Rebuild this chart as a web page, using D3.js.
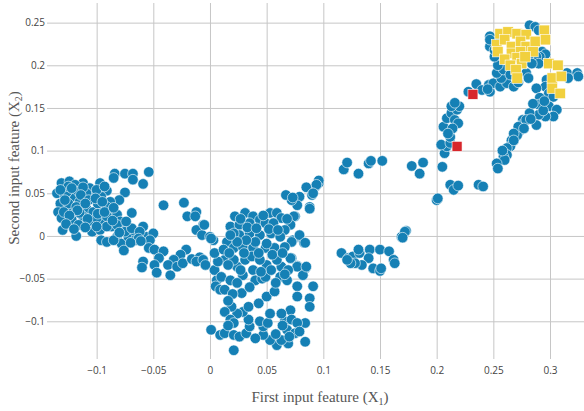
<html>
<head>
<meta charset="utf-8">
<script src="https://d3js.org/d3.v7.min.js"></script>
<style>
  html, body { margin: 0; padding: 0; background: #fff; }
  .tick text { font-family: "Open Sans", sans-serif; font-size: 10px; fill: #444; }
  .title { font-family: "Liberation Serif", serif; font-size: 15px; fill: #555; }
</style>
</head>
<body>
<div id="chart"></div>
<script>
// [first feature, second feature]
const bluePoints = [
  [-0.135,0.050],[-0.131,0.062],[-0.124,0.064],[-0.112,0.062],[-0.119,0.060],[-0.097,0.062],
  [-0.084,0.073],[-0.075,0.073],[-0.068,0.073],[-0.068,0.066],[-0.085,0.068],[-0.054,0.075],
  [-0.059,0.061],[-0.075,0.051],[-0.080,0.042],[-0.091,0.053],[-0.096,0.046],[-0.103,0.048],
  [-0.112,0.044],[-0.121,0.046],[-0.128,0.048],[-0.132,0.038],[-0.134,0.028],[-0.131,0.021],
  [-0.130,0.007],[-0.118,0.000],[-0.122,0.019],[-0.121,0.030],[-0.115,0.040],[-0.109,0.032],
  [-0.112,0.023],[-0.116,0.013],[-0.103,0.028],[-0.104,0.017],[-0.104,0.005],[-0.096,0.030],
  [-0.094,0.019],[-0.097,0.007],[-0.096,-0.005],[-0.091,-0.007],[-0.088,0.040],[-0.087,0.027],
  [-0.082,0.025],[-0.087,0.011],[-0.079,0.017],[-0.078,0.007],[-0.082,-0.001],[-0.078,-0.009],
  [-0.076,-0.017],[-0.069,0.027],[-0.073,0.011],[-0.072,-0.001],[-0.066,0.005],[-0.066,-0.005],
  [-0.059,0.011],[-0.056,-0.001],[-0.050,0.003],[-0.053,-0.005],[-0.054,-0.014],[-0.049,-0.016],
  [-0.041,-0.018],[-0.045,-0.026],[-0.059,-0.030],[-0.060,-0.037],[-0.049,-0.034],[-0.047,-0.043],
  [-0.041,0.036],[-0.023,0.039],[-0.020,0.023],[-0.012,0.028],[-0.013,0.023],[-0.006,0.013],
  [-0.012,0.007],[-0.007,0.001],[0.000,-0.001],[0.003,-0.005],[-0.021,-0.016],[-0.026,-0.022],
  [-0.032,-0.028],[-0.037,-0.034],[-0.035,-0.046],[-0.029,-0.036],[-0.024,-0.032],[-0.016,-0.027],
  [-0.009,-0.025],[-0.004,-0.034],[-0.012,-0.030],[0.004,-0.040],[0.006,-0.052],[0.005,-0.059],
  [-0.126,0.052],[-0.116,0.052],[-0.106,0.056],[-0.100,0.054],[-0.109,0.050],[-0.125,0.038],
  [-0.118,0.034],[-0.129,0.028],[-0.099,0.038],[-0.091,0.034],[-0.115,0.027],[-0.100,0.021],
  [-0.091,0.023],[-0.091,0.011],[-0.100,0.011],[-0.082,0.013],[-0.075,0.005],[-0.069,0.009],
  [-0.062,0.005],[-0.085,-0.005],[-0.063,-0.003],[-0.125,0.058],[-0.132,0.054],[-0.112,0.057],
  [-0.093,0.058],
  [-0.128,0.042],[-0.122,0.056],[-0.114,0.048],[-0.107,0.042],[-0.101,0.044],[-0.095,0.040],
  [-0.110,0.038],[-0.117,0.030],[-0.124,0.024],[-0.108,0.020],[-0.099,0.026],[-0.093,0.028],
  [-0.086,0.018],[-0.080,0.004],[-0.074,0.017],[-0.070,-0.008],[-0.061,-0.006],[-0.085,0.033],
  [-0.127,0.014],[-0.120,0.008],[-0.110,0.010],
  [0.096,0.062],[0.093,0.058],[0.085,0.057],[0.090,0.048],[0.088,0.034],[0.079,0.046],
  [0.077,0.036],[0.072,0.042],[0.067,0.048],[0.075,0.023],[0.096,0.065],[0.094,0.060],
  [0.091,0.050],[0.088,0.032],[0.074,0.023],[0.079,-0.001],[0.083,-0.008],[0.073,-0.005],
  [0.072,-0.026],[0.077,-0.035],[0.084,-0.038],[0.082,-0.046],[0.073,0.045],
  [0.022,0.023],[0.031,0.027],[0.038,0.023],[0.044,0.019],[0.053,0.027],[0.059,0.027],
  [0.063,0.021],[0.071,0.013],[0.018,0.011],[0.026,0.013],[0.035,0.015],[0.049,0.015],
  [0.056,0.015],[0.066,0.007],[0.079,0.001],[0.084,-0.008],[0.072,-0.007],[0.015,-0.007],
  [0.026,0.001],[0.035,0.003],[0.044,0.001],[0.054,0.003],[0.062,-0.001],[0.021,-0.014],
  [0.029,-0.013],[0.038,-0.014],[0.049,-0.014],[0.057,-0.014],[0.066,-0.013],[0.071,-0.026],
  [0.077,-0.036],[0.085,-0.036],[0.091,-0.059],[0.088,-0.073],[0.088,-0.083],[0.084,-0.102],
  [0.084,-0.124],[0.004,-0.040],[0.013,-0.028],[0.010,-0.048],[0.009,-0.063],[0.013,-0.063],
  [0.018,-0.052],[0.024,-0.036],[0.031,-0.028],[0.029,-0.046],[0.028,-0.067],[0.024,-0.055],
  [0.038,-0.040],[0.040,-0.052],[0.046,-0.050],[0.049,-0.048],[0.050,-0.034],[0.054,-0.040],
  [0.062,-0.048],[0.063,-0.036],[0.068,-0.052],[0.077,-0.059],[0.077,-0.071],[0.071,-0.087],
  [0.066,-0.100],[0.063,-0.091],[0.072,-0.098],[0.077,-0.102],[0.068,-0.110],[0.075,-0.114],
  [0.079,-0.112],[0.069,-0.126],[0.059,-0.128],[0.063,-0.122],[0.053,-0.122],[0.047,-0.116],
  [0.047,-0.106],[0.044,-0.100],[0.051,-0.102],[0.053,-0.091],[0.043,-0.079],[0.021,-0.134],
  [0.001,-0.110],[0.009,-0.116],[0.013,-0.114],[0.021,-0.116],[0.026,-0.118],[0.032,-0.114],
  [0.035,-0.106],[0.034,-0.098],[0.029,-0.089],[0.024,-0.091],[0.019,-0.083],[0.013,-0.089],
  [0.018,-0.098],[0.021,-0.102],[0.034,-0.083],[0.007,-0.030],[0.004,-0.020],[0.012,-0.016],
  [0.021,-0.028],[0.037,-0.024],[0.044,-0.028],[0.059,-0.028],[0.069,-0.040],[0.050,-0.071],
  [0.057,-0.065],[-0.005,0.013],[0.001,-0.003],[-0.006,-0.028],[-0.004,-0.034],[0.021,0.003],
  [0.050,-0.009],[0.040,-0.007],[0.032,-0.005],[0.024,-0.007],[0.018,0.001],
  [0.027,0.020],[0.033,0.010],[0.041,0.009],[0.047,0.024],[0.052,0.008],[0.060,0.007],
  [0.068,0.020],[0.030,-0.020],[0.043,-0.020],[0.055,-0.022],[0.064,-0.020],[0.017,-0.020],
  [0.016,-0.034],[0.027,-0.040],[0.045,-0.042],[0.058,-0.055],[0.066,-0.045],[0.035,-0.060],
  [0.020,-0.068],[0.016,-0.076],[0.064,-0.105],[0.058,-0.115],[0.040,-0.120],[0.016,-0.105],
  [0.070,-0.118],
  [0.118,0.078],[0.121,0.086],[0.131,0.073],[0.140,0.085],[0.142,0.088],[0.152,0.088],
  [0.178,0.082],[0.188,0.086],[0.185,0.073],[0.200,0.042],
  [0.116,-0.020],[0.122,-0.026],[0.126,-0.024],[0.132,-0.020],[0.141,-0.016],[0.150,-0.016],
  [0.158,-0.018],[0.162,-0.028],[0.163,-0.032],[0.169,-0.001],[0.173,0.006],[0.144,-0.038],
  [0.150,-0.041],[0.151,-0.038],[0.140,-0.026],[0.134,-0.034],[0.128,-0.032],[0.124,-0.032],
  [0.121,-0.028],[0.131,-0.016],[0.172,0.005],[0.170,-0.002],
  [0.205,0.081],[0.201,0.044],[0.212,0.060],[0.215,0.054],[0.219,0.059],[0.237,0.060],
  [0.241,0.058],[0.207,0.097],[0.209,0.105],[0.204,0.107],[0.212,0.109],[0.212,0.116],
  [0.206,0.128],[0.209,0.138],[0.213,0.144],[0.216,0.136],[0.218,0.148],[0.220,0.152],
  [0.213,0.152],[0.216,0.156],[0.219,0.132],[0.214,0.126],[0.210,0.120],
  [0.228,0.169],[0.235,0.178],[0.240,0.171],[0.247,0.169],[0.246,0.177],[0.250,0.179],
  [0.256,0.175],[0.262,0.179],[0.268,0.175],[0.257,0.185],[0.253,0.191],[0.259,0.195],
  [0.265,0.189],[0.271,0.185],[0.254,0.200],[0.251,0.210],[0.247,0.222],[0.247,0.234],
  [0.253,0.228],[0.279,0.191],[0.281,0.185],[0.282,0.247],[0.287,0.245],[0.290,0.241],
  [0.293,0.216],[0.296,0.213],[0.291,0.210],[0.288,0.210],[0.290,0.202],[0.247,0.230],
  [0.251,0.218],[0.281,0.210],[0.284,0.202],[0.245,0.172],[0.272,0.180],
  [0.315,0.191],[0.324,0.191],[0.325,0.187],[0.316,0.185],[0.297,0.183],[0.296,0.175],
  [0.288,0.173],[0.299,0.167],[0.303,0.163],[0.291,0.162],[0.290,0.154],[0.299,0.152],
  [0.306,0.148],[0.303,0.140],[0.296,0.140],[0.290,0.142],[0.282,0.144],[0.276,0.136],
  [0.275,0.130],[0.279,0.136],[0.288,0.130],[0.274,0.124],[0.271,0.118],[0.266,0.112],
  [0.265,0.105],[0.262,0.103],[0.262,0.095],[0.259,0.093],[0.260,0.089],[0.253,0.085],
  [0.254,0.079],[0.272,0.128],[0.268,0.120],[0.283,0.137],[0.294,0.147],[0.285,0.155],
  [0.295,0.158],[0.268,0.112],[0.277,0.126],[0.258,0.100]
];
const yellowPoints = [
  [0.256,0.237],[0.263,0.239],[0.271,0.237],[0.279,0.236],[0.253,0.224],[0.260,0.230],
  [0.266,0.222],[0.274,0.228],[0.279,0.222],[0.254,0.216],[0.266,0.214],[0.274,0.216],
  [0.285,0.216],[0.260,0.207],[0.271,0.209],[0.275,0.202],[0.265,0.200],[0.270,0.195],
  [0.271,0.185],[0.278,0.210],[0.287,0.228],[0.295,0.241],[0.296,0.230],[0.299,0.202],
  [0.307,0.200],[0.302,0.185],[0.310,0.187],[0.302,0.173],[0.309,0.167]
];
const redPoints = [[0.232,0.166],[0.218,0.105]];
const xTicks = [-0.1,-0.05,0,0.05,0.1,0.15,0.2,0.25,0.3];
const yTicks = [-0.1,-0.05,0,0.05,0.1,0.15,0.2,0.25];

const W = 584, H = 411;
const margin = {left: 47, right: 584, top: 3, bottom: 359};

const svg = d3.select("#chart").append("svg").attr("width", W).attr("height", H);

const x = d3.scaleLinear().domain([-0.1438, 0.33]).range([margin.left, margin.right]);
const y = d3.scaleLinear().domain([-0.1442, 0.273]).range([margin.bottom, margin.top]);

// grid + tick labels
svg.append("g")
  .attr("transform", "translate(0," + margin.bottom + ")")
  .call(d3.axisBottom(x).tickValues(xTicks).tickSize(-(margin.bottom - margin.top)).tickPadding(8).tickFormat(d3.format("")))
  .call(g => g.select(".domain").remove())
  .call(g => g.selectAll(".tick line").attr("stroke", "#c6c6c6"));

svg.append("g")
  .attr("transform", "translate(" + margin.left + ",0)")
  .call(d3.axisLeft(y).tickValues(yTicks).tickSize(-(margin.right - margin.left)).tickPadding(2).tickFormat(d3.format("")))
  .call(g => g.select(".domain").remove())
  .call(g => g.selectAll(".tick line").attr("stroke", "#c6c6c6"));

svg.selectAll("g[font-family]").attr("font-family", null).attr("font-size", null);

const plot = svg.append("g");

plot.selectAll("circle.blue")
  .data(bluePoints)
  .enter().append("circle")
    .attr("class", "blue")
    .attr("cx", d => x(d[0]))
    .attr("cy", d => y(d[1]))
    .attr("r", 5.3)
    .attr("fill", "#1580b5")
    .attr("stroke", "#fff")
    .attr("stroke-width", 0.6);

const sq = 10.5;
plot.selectAll("rect.yellow")
  .data(yellowPoints)
  .enter().append("rect")
    .attr("x", d => x(d[0]) - sq / 2)
    .attr("y", d => y(d[1]) - sq / 2)
    .attr("width", sq).attr("height", sq)
    .attr("fill", "#f1d03e")
    .attr("stroke", "#fff")
    .attr("stroke-width", 0.6);

plot.selectAll("rect.red")
  .data(redPoints)
  .enter().append("rect")
    .attr("x", d => x(d[0]) - 5)
    .attr("y", d => y(d[1]) - 5)
    .attr("width", 10).attr("height", 10)
    .attr("fill", "#d7262b")
    .attr("stroke", "#fff")
    .attr("stroke-width", 0.6);

// axis titles
const xt = svg.append("text").attr("class", "title")
  .attr("x", 320).attr("y", 402).attr("text-anchor", "middle");
xt.append("tspan").text("First input feature (X");
xt.append("tspan").attr("font-size", "10px").attr("dy", 3).text("1");
xt.append("tspan").attr("dy", -3).text(")");

const yt = svg.append("text").attr("class", "title")
  .attr("transform", "translate(19,168) rotate(-90)").attr("text-anchor", "middle");
yt.append("tspan").text("Second input feature (X");
yt.append("tspan").attr("font-size", "10px").attr("dy", 3).text("2");
yt.append("tspan").attr("dy", -3).text(")");
</script>
</body>
</html>
